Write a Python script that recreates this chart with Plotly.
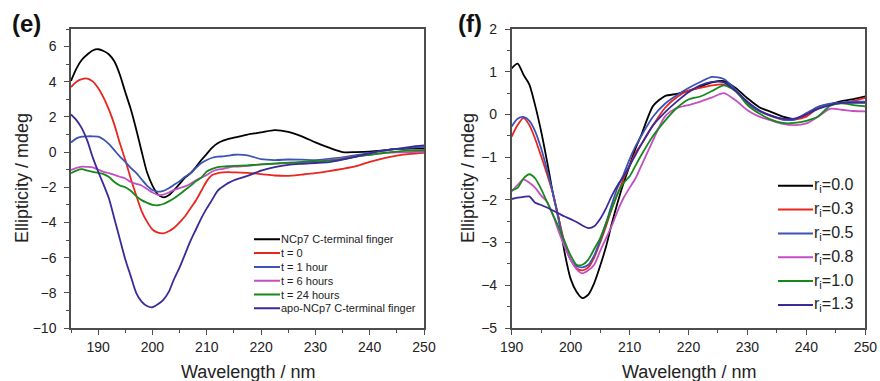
import plotly.graph_objects as go

# ---------------- Panel (e) data ----------------
wl_e = [185, 186, 187, 188, 189, 190, 191, 192, 193, 194, 195, 196, 197, 198, 199,
        200, 201, 202, 203, 204, 205, 206, 207, 208, 209, 210, 211, 212, 213, 214, 215,
        217.5, 220, 222.5, 225, 227.5, 230, 232.5, 235, 237.5, 240, 242.5, 245, 247.5, 250]

e_ncp7 = [4.05, 4.75, 5.25, 5.55, 5.78, 5.85, 5.75, 5.55, 5.15, 4.4, 3.4, 2.45, 1.3, 0.05, -1.15,
          -1.9, -2.4, -2.57, -2.45, -2.15, -1.8, -1.45, -1.2, -0.85, -0.45, -0.1, 0.25, 0.5, 0.65, 0.75, 0.82,
          1.0, 1.12, 1.25, 1.15, 0.9, 0.55, 0.25, 0.0, 0.0, 0.03, 0.1, 0.18, 0.2, 0.2]
e_t0 = [3.7, 4.0, 4.15, 4.18, 4.02, 3.65, 3.1, 2.4, 1.55, 0.5, -0.45, -1.5, -2.45, -3.35, -3.95,
        -4.4, -4.58, -4.62, -4.5, -4.3, -4.0, -3.65, -3.2, -2.75, -2.2, -1.65, -1.3, -1.2, -1.15, -1.14, -1.15,
        -1.18, -1.25, -1.33, -1.35, -1.28, -1.2, -1.08, -0.95, -0.8, -0.55, -0.35, -0.2, -0.1, -0.04]
e_t1 = [0.55, 0.78, 0.88, 0.9, 0.9, 0.88, 0.72, 0.45, 0.1, -0.25, -0.55, -0.9, -1.18, -1.55, -1.9,
        -2.15, -2.25, -2.2, -2.05, -1.85, -1.65, -1.4, -1.2, -0.9, -0.62, -0.45, -0.32, -0.26, -0.24, -0.2, -0.15,
        -0.18, -0.4, -0.45, -0.42, -0.43, -0.45, -0.38, -0.3, -0.17, -0.05, 0.08, 0.18, 0.25, 0.3]
e_t6 = [-1.02, -0.9, -0.83, -0.84, -0.87, -1.0, -1.12, -1.2, -1.3, -1.4, -1.5, -1.7, -1.8, -1.9, -2.1,
        -2.3, -2.43, -2.42, -2.3, -2.15, -2.05, -1.95, -1.8, -1.6, -1.45, -1.3, -1.1, -1.0, -0.95, -0.88, -0.83,
        -0.78, -0.7, -0.65, -0.62, -0.6, -0.55, -0.45, -0.35, -0.25, -0.15, -0.06, -0.02, 0.0, 0.02]
e_t24 = [-1.2, -1.05, -0.97, -1.05, -1.12, -1.18, -1.25, -1.42, -1.7, -1.9, -2.0, -2.2, -2.5, -2.73, -2.88,
         -3.0, -3.02, -2.95, -2.8, -2.62, -2.4, -2.15, -1.92, -1.65, -1.45, -1.1, -0.95, -0.85, -0.82, -0.8, -0.78,
         -0.75, -0.7, -0.65, -0.6, -0.56, -0.53, -0.48, -0.4, -0.25, -0.15, -0.05, 0.03, 0.08, 0.1]
e_apo = [2.14, 1.82, 1.35, 0.65, -0.3, -1.1, -1.85, -2.65, -3.8, -4.95, -6.1, -7.05, -8.0, -8.5, -8.75,
         -8.82, -8.65, -8.4, -7.95, -7.2, -6.55, -5.8, -5.05, -4.4, -3.75, -3.2, -2.7, -2.2, -1.95, -1.75, -1.6,
         -1.35, -1.05, -0.85, -0.72, -0.66, -0.62, -0.57, -0.42, -0.25, -0.07, 0.08, 0.18, 0.3, 0.38]

e_names = ["NCp7 C-terminal finger", "t = 0", "t = 1 hour", "t = 6 hours", "t = 24 hours",
           "apo-NCp7 C-terminal finger"]
e_series = [e_ncp7, e_t0, e_t1, e_t6, e_t24, e_apo]

# ---------------- Panel (f) data ----------------
wl_f = [190, 191, 192, 193, 194, 195, 196, 197, 198, 199, 200, 201, 202, 203, 204, 205,
        206, 207, 208, 209, 210, 211, 212, 214, 216, 218, 220, 222, 224, 226, 228, 230,
        232, 234, 236, 238, 240, 242, 244, 246, 248, 250]

f_r00 = [1.08, 1.19, 0.93, 0.7, 0.2, -0.4, -1.1, -1.85, -2.45, -3.25, -3.85, -4.15, -4.3, -4.22, -3.95, -3.55,
         -3.1, -2.55, -2.05, -1.6, -1.2, -0.8, -0.48, 0.2, 0.43, 0.48, 0.55, 0.65, 0.75, 0.78, 0.62, 0.38,
         0.17, 0.06, -0.05, -0.11, 0.0, 0.17, 0.24, 0.31, 0.36, 0.42]
f_r03 = [-0.52, -0.25, -0.08, -0.25, -0.58, -0.98, -1.4, -1.85, -2.45, -3.02, -3.4, -3.6, -3.65, -3.58, -3.35, -3.0,
         -2.62, -2.2, -1.85, -1.5, -1.2, -0.9, -0.7, -0.25, 0.15, 0.4, 0.56, 0.62, 0.68, 0.7, 0.55, 0.25,
         0.08, -0.04, -0.12, -0.12, -0.05, 0.15, 0.24, 0.27, 0.32, 0.39]
f_r05 = [-0.28, -0.1, -0.06, -0.15, -0.4, -0.8, -1.3, -1.85, -2.5, -3.05, -3.4, -3.55, -3.58, -3.52, -3.3, -2.95,
         -2.55, -2.1, -1.7, -1.4, -1.05, -0.75, -0.5, -0.05, 0.25, 0.45, 0.62, 0.76, 0.88, 0.83, 0.58, 0.28,
         0.08, -0.03, -0.12, -0.12, 0.03, 0.18, 0.25, 0.28, 0.3, 0.3]
f_r08 = [-1.8, -1.65, -1.52, -1.6, -1.72, -1.9, -2.05, -2.35, -2.75, -3.1, -3.4, -3.62, -3.72, -3.65, -3.52, -3.2,
         -2.9, -2.6, -2.25, -1.95, -1.72, -1.5, -1.2, -0.6, -0.05, 0.15, 0.22, 0.3, 0.4, 0.5, 0.33, 0.1,
         -0.05, -0.14, -0.22, -0.25, -0.21, -0.05, 0.13, 0.11, 0.08, 0.07]
f_r10 = [-1.78, -1.72, -1.5, -1.4, -1.5, -1.75, -2.05, -2.35, -2.65, -2.98, -3.3, -3.52, -3.52, -3.4, -3.15, -2.9,
         -2.55, -2.2, -1.85, -1.6, -1.45, -1.2, -0.95, -0.5, -0.15, 0.15, 0.35, 0.42, 0.55, 0.68, 0.55, 0.22,
         0.02, -0.12, -0.2, -0.2, -0.15, -0.05, 0.2, 0.26, 0.22, 0.19]
f_r13 = [-1.98, -1.95, -1.93, -1.92, -2.07, -2.12, -2.18, -2.25, -2.32, -2.39, -2.45, -2.52, -2.6, -2.66, -2.62, -2.45,
         -2.2, -1.9, -1.65, -1.45, -1.2, -0.95, -0.7, -0.25, 0.05, 0.3, 0.52, 0.68, 0.76, 0.75, 0.55, 0.3,
         0.1, -0.03, -0.1, -0.1, 0.0, 0.13, 0.22, 0.27, 0.27, 0.27]

f_names = ["r<sub>i</sub>=0.0", "r<sub>i</sub>=0.3", "r<sub>i</sub>=0.5", "r<sub>i</sub>=0.8",
           "r<sub>i</sub>=1.0", "r<sub>i</sub>=1.3"]
f_series = [f_r00, f_r03, f_r05, f_r08, f_r10, f_r13]

colors = ["#000000", "#e8261e", "#3c55b5", "#c44ec4", "#15891a", "#3a2a98"]

# ---------------- Layout geometry (pixels) ----------------
W, H = 880, 381
FONT = "Arial, 'Liberation Sans', sans-serif"


def px(x):
    return x / W


def py(y):
    return 1 - y / H


fig = go.Figure()

for ys, c in zip(e_series, colors):
    fig.add_trace(go.Scatter(x=wl_e, y=ys, mode="lines", showlegend=False, hoverinfo="x+y",
                             line=dict(color=c, width=1.8, shape="spline", smoothing=0.7),
                             xaxis="x", yaxis="y"))
for ys, c in zip(f_series, colors):
    fig.add_trace(go.Scatter(x=wl_f, y=ys, mode="lines", showlegend=False, hoverinfo="x+y",
                             line=dict(color=c, width=1.8, shape="spline", smoothing=0.7),
                             xaxis="x2", yaxis="y2"))

axis_common = dict(showline=True, linecolor="#4d4d4d", linewidth=1.5, mirror=True,
                   ticks="outside", ticklen=5, tickwidth=1.2, tickcolor="#4d4d4d",
                   showgrid=False, zeroline=False,
                   tickfont=dict(family=FONT, size=14, color="#222222"))

ydom = [py(328), py(29)]
fig.update_layout(
    width=W, height=H,
    margin=dict(l=0, r=0, t=0, b=0, autoexpand=False),
    paper_bgcolor="white", plot_bgcolor="white",
    showlegend=False,
    xaxis=dict(domain=[px(71), px(424)], range=[185, 250], tick0=190, dtick=10,
               minor=dict(dtick=5, tick0=185, ticks="outside", ticklen=3, tickcolor="#4d4d4d"),
               anchor="y", ticklabelstandoff=0, **axis_common),
    yaxis=dict(domain=ydom, range=[-10, 7], tick0=0, dtick=2,
               minor=dict(dtick=1, ticks="outside", ticklen=3, tickcolor="#4d4d4d"),
               anchor="x", ticklabelstandoff=5, **axis_common),
    xaxis2=dict(domain=[px(511.7), px(865.3)], range=[190, 250], tick0=190, dtick=10,
                minor=dict(dtick=5, ticks="outside", ticklen=3, tickcolor="#4d4d4d"),
                anchor="y2", ticklabelstandoff=0, **axis_common),
    yaxis2=dict(domain=ydom, range=[-5, 2], tick0=0, dtick=1,
                minor=dict(dtick=0.5, ticks="outside", ticklen=3, tickcolor="#4d4d4d"),
                anchor="x2", ticklabelstandoff=5, **axis_common),
)

annotations = []

# panel labels
annotations.append(dict(text="<b>(e)</b>", x=px(26), y=py(23), xref="paper", yref="paper",
                        showarrow=False, xanchor="center", yanchor="middle",
                        font=dict(family=FONT, size=24, color="#111111")))
annotations.append(dict(text="<b>(f)</b>", x=px(470), y=py(23), xref="paper", yref="paper",
                        showarrow=False, xanchor="center", yanchor="middle",
                        font=dict(family=FONT, size=24, color="#111111")))

# axis titles
for cx in (247.5, 688.5):
    annotations.append(dict(text="Wavelength / nm", x=px(cx), y=py(372), xref="paper", yref="paper",
                            showarrow=False, xanchor="center", yanchor="middle",
                            font=dict(family=FONT, size=18, color="#222222")))
for cx in (21.5, 467.5):
    annotations.append(dict(text="Ellipticity / mdeg", x=px(cx), y=py(178.5), xref="paper", yref="paper",
                            showarrow=False, xanchor="center", yanchor="middle", textangle=-90,
                            font=dict(family=FONT, size=18, color="#222222")))


def legend_entry(name, color, x_line, x_text, y, size):
    # text with a plain (headless) arrow drawn back to the start of the line sample
    return dict(text=name, x=px(x_line), y=py(y), xref="paper", yref="paper",
                showarrow=True, arrowhead=0, arrowwidth=2, arrowcolor=color,
                standoff=0, startstandoff=0,
                axref="pixel", ayref="pixel", ax=x_text - x_line, ay=0,
                xanchor="left", yanchor="middle", borderpad=0,
                font=dict(family=FONT, size=size, color="#222222"))


# legend (e)
for i, (name, c) in enumerate(zip(e_names, colors)):
    annotations.append(legend_entry(name, c, 254, 280, 239.3 + i * 13.8, 11))

# legend (f)
for i, (name, c) in enumerate(zip(f_names, colors)):
    annotations.append(legend_entry(name, c, 778, 813, 185.7 + i * 23.85, 16))

fig.update_layout(annotations=annotations)

fig.write_html("out.html")
